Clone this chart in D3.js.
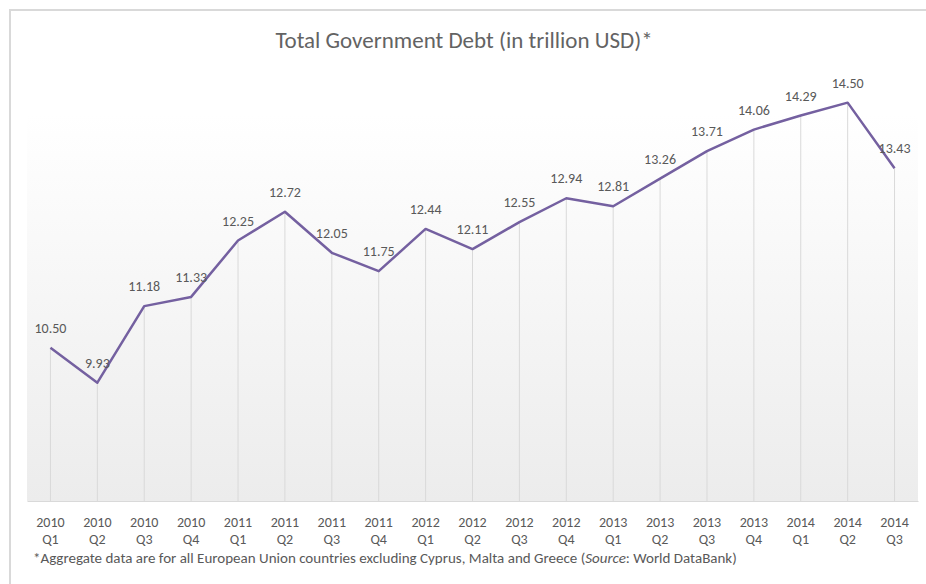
<!DOCTYPE html>
<html lang="en">
<head>
    <meta charset="UTF-8">
    <title>Total Government Debt</title>
    <script src="https://d3js.org/d3.v7.min.js"></script>
    <style>
        body { margin: 0; background: #fff; }
        text { font-family: Calibri, Carlito, Lato, sans-serif; fill: #595959; }
    </style>
</head>
<body>
    <svg id="chart" width="926" height="584"></svg>

    <script>
        // Data
        const years = ["2010", "2010", "2010", "2010", "2011", "2011", "2011", "2011", "2012", "2012",
                       "2012", "2012", "2013", "2013", "2013", "2013", "2014", "2014", "2014"];
        const quarters = ["Q1", "Q2", "Q3", "Q4", "Q1", "Q2", "Q3", "Q4", "Q1", "Q2",
                          "Q3", "Q4", "Q1", "Q2", "Q3", "Q4", "Q1", "Q2", "Q3"];
        const debt = [10.50, 9.93, 11.18, 11.33, 12.25, 12.72, 12.05, 11.75, 12.44, 12.11,
                      12.55, 12.94, 12.81, 13.26, 13.71, 14.06, 14.29, 14.50, 13.43];
        const yDomain = [8, 15];

        const categories = years.map((y, i) => y + " " + quarters[i]);

        const svg = d3.select("#chart");
        const width = +svg.attr("width");
        const height = +svg.attr("height");

        const plot = { left: 27, right: 918, top: 72, bottom: 501 };

        const x = d3.scalePoint()
            .domain(categories)
            .range([plot.left, plot.right])
            .padding(0.5);

        const y = d3.scaleLinear()
            .domain(yDomain)
            .range([plot.bottom, plot.top]);

        // outer frame (only left and top edges visible)
        svg.append("path")
            .attr("d", `M10,${height} L10,10 L${width},10`)
            .attr("fill", "none")
            .attr("stroke", "#d9d9d9")
            .attr("stroke-width", 2);

        // plot area gradient
        const grad = svg.append("defs").append("linearGradient")
            .attr("id", "bg")
            .attr("x1", 0).attr("y1", 0).attr("x2", 0).attr("y2", 1);
        grad.append("stop").attr("offset", "0%").attr("stop-color", "#ffffff");
        grad.append("stop").attr("offset", "10%").attr("stop-color", "#ffffff");
        grad.append("stop").attr("offset", "100%").attr("stop-color", "#ececec");

        svg.append("rect")
            .attr("x", plot.left)
            .attr("y", plot.top)
            .attr("width", plot.right - plot.left)
            .attr("height", plot.bottom - plot.top)
            .attr("fill", "url(#bg)");

        // title
        svg.append("text")
            .attr("x", 464)
            .attr("y", 48)
            .attr("text-anchor", "middle")
            .style("font-size", "23px")
            .style("fill", "#636363")
            .text("Total Government Debt (in trillion USD)*");

        // drop lines from each point down to the axis
        svg.append("g")
            .selectAll("line")
            .data(debt)
            .join("line")
            .attr("x1", (d, i) => x(categories[i]))
            .attr("x2", (d, i) => x(categories[i]))
            .attr("y1", d => y(d))
            .attr("y2", plot.bottom)
            .attr("stroke", "#d9d9d9")
            .attr("stroke-width", 1);

        // x axis
        const xAxis = svg.append("g")
            .attr("transform", `translate(0,${plot.bottom})`)
            .call(d3.axisBottom(x).tickSize(0).tickFormat(""));
        xAxis.select(".domain").attr("stroke", "#d9d9d9");

        const tickLabels = svg.append("g")
            .selectAll("text")
            .data(categories)
            .join("text")
            .attr("x", d => x(d))
            .attr("text-anchor", "middle")
            .style("font-size", "14px");
        tickLabels.append("tspan")
            .attr("x", d => x(d))
            .attr("y", 527)
            .text((d, i) => years[i]);
        tickLabels.append("tspan")
            .attr("x", d => x(d))
            .attr("y", 544)
            .text((d, i) => quarters[i]);

        // line
        const line = d3.line()
            .x((d, i) => x(categories[i]))
            .y(d => y(d));

        svg.append("path")
            .datum(debt)
            .attr("d", line)
            .attr("fill", "none")
            .attr("stroke", "#7460a0")
            .attr("stroke-width", 2.5)
            .attr("stroke-linejoin", "round");

        // data labels
        svg.append("g")
            .selectAll("text")
            .data(debt)
            .join("text")
            .attr("x", (d, i) => x(categories[i]))
            .attr("y", d => y(d) - 15)
            .attr("text-anchor", "middle")
            .style("font-size", "14px")
            .text(d => d.toFixed(2));

        // footnote
        const note = svg.append("text")
            .attr("x", 33)
            .attr("y", 563)
            .style("font-size", "15px");
        note.append("tspan").text("*Aggregate data are for all European Union countries excluding Cyprus, Malta and Greece (");
        note.append("tspan").style("font-style", "italic").text("Source");
        note.append("tspan").text(": World DataBank)");
    </script>
</body>
</html>
